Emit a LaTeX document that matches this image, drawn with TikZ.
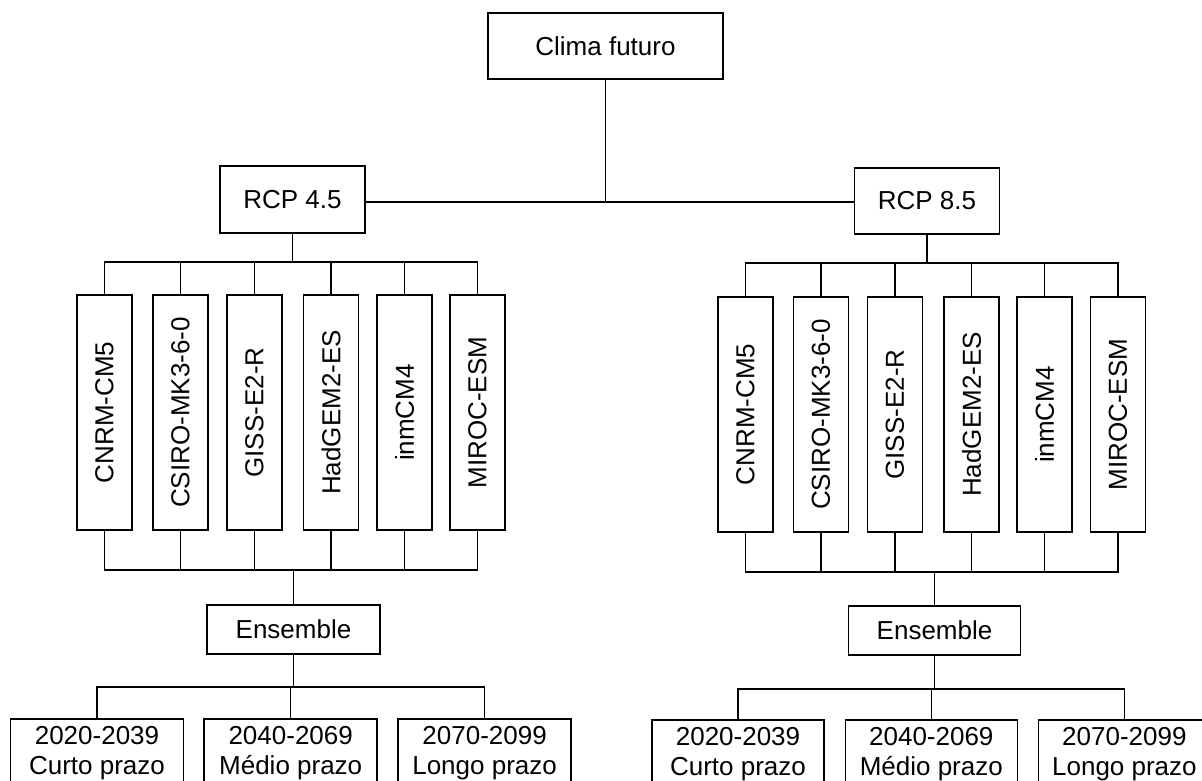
\documentclass[tikz,border=0pt]{standalone}
\usepackage{fontspec}
\setmainfont{Liberation Sans}
\usepackage{graphicx}

\begin{document}
\begin{tikzpicture}[x=1pt,y=1pt,
    box/.style={draw,line width=1.5pt,inner sep=0pt,align=center,
                font=\fontsize{26pt}{30pt}\selectfont},
    gcm/.style={box,minimum width=55pt,minimum height=235pt},
    period/.style={box,anchor=north,minimum width=173pt,inner ysep=8pt},
    link/.style={line width=1.5pt}]
  \useasboundingbox (0,0) rectangle (1202,-780);
  \clip (0,0) rectangle (1202,-780);
  % top level
  \node[box,minimum width=235pt,minimum height=66pt] (clima) at (605.5,-46) {Clima futuro};
  \node[box,minimum width=145pt,minimum height=67pt] (r45) at (292.5,-199.5) {RCP 4.5};
  \node[box,minimum width=145pt,minimum height=66pt] (r85) at (927,-201) {RCP 8.5};
  \coordinate (hub) at (605.5,-202);
  \draw[link] (clima.south) -- (hub);
  \draw[link] (r45.east |- hub) -- (r85.west |- hub);
  % RCP 4.5 models
  \node[gcm] (lm1) at (104.5,-412.5) {\rotatebox{90}{CNRM-CM5}};
  \node[gcm] (lm2) at (180.5,-412.5) {\rotatebox{90}{CSIRO-MK3-6-0}};
  \node[gcm] (lm3) at (254.5,-412.5) {\rotatebox{90}{GISS-E2-R}};
  \node[gcm] (lm4) at (331,-412.5) {\rotatebox{90}{HadGEM2-ES}};
  \node[gcm] (lm5) at (404.5,-412.5) {\rotatebox{90}{inmCM4}};
  \node[gcm] (lm6) at (477.5,-412.5) {\rotatebox{90}{MIROC-ESM}};
  \coordinate (lb1) at (292.5,-262);
  \draw[link] (r45.south) -- (lb1);
  \draw[link] (lm1.north) |- (lb1) -| (lm6.north);
  \draw[link] (lm2.north) -- (lm2.north |- lb1);
  \draw[link] (lm3.north) -- (lm3.north |- lb1);
  \draw[link] (lm4.north) -- (lm4.north |- lb1);
  \draw[link] (lm5.north) -- (lm5.north |- lb1);
  % RCP 4.5 ensemble
  \node[box,minimum width=173pt,minimum height=49pt] (lens) at (293.5,-629.5) {Ensemble};
  \coordinate (lb2) at (293.5,-570);
  \draw[link] (lm1.south) |- (lb2) -| (lm6.south);
  \draw[link] (lm2.south) -- (lm2.south |- lb2);
  \draw[link] (lm3.south) -- (lm3.south |- lb2);
  \draw[link] (lm4.south) -- (lm4.south |- lb2);
  \draw[link] (lm5.south) -- (lm5.south |- lb2);
  \draw[link] (lb2) -- (lens.north);
  % RCP 4.5 periods
  \node[period] (lp1) at (97,-718) {2020-2039\\Curto prazo};
  \node[period] (lp2) at (290.7,-718) {2040-2069\\Médio prazo};
  \node[period] (lp3) at (484.6,-718) {2070-2099\\Longo prazo};
  \coordinate (lb3) at (293.5,-687);
  \draw[link] (lens.south) -- (lb3);
  \draw[link] (lp1.north) |- (lb3) -| (lp3.north);
  \draw[link] (lp2.north) -- (lp2.north |- lb3);
  % RCP 8.5 models
  \node[gcm] (rm1) at (745.5,-414.5) {\rotatebox{90}{CNRM-CM5}};
  \node[gcm] (rm2) at (821,-414.5) {\rotatebox{90}{CSIRO-MK3-6-0}};
  \node[gcm] (rm3) at (895,-414.5) {\rotatebox{90}{GISS-E2-R}};
  \node[gcm] (rm4) at (971.5,-414.5) {\rotatebox{90}{HadGEM2-ES}};
  \node[gcm] (rm5) at (1044.5,-414.5) {\rotatebox{90}{inmCM4}};
  \node[gcm] (rm6) at (1118,-414.5) {\rotatebox{90}{MIROC-ESM}};
  \coordinate (rb1) at (927,-263);
  \draw[link] (r85.south) -- (rb1);
  \draw[link] (rm1.north) |- (rb1) -| (rm6.north);
  \draw[link] (rm2.north) -- (rm2.north |- rb1);
  \draw[link] (rm3.north) -- (rm3.north |- rb1);
  \draw[link] (rm4.north) -- (rm4.north |- rb1);
  \draw[link] (rm5.north) -- (rm5.north |- rb1);
  % RCP 8.5 ensemble
  \node[box,minimum width=172pt,minimum height=49pt] (rens) at (934.5,-630.5) {Ensemble};
  \coordinate (rb2) at (934.5,-572);
  \draw[link] (rm1.south) |- (rb2) -| (rm6.south);
  \draw[link] (rm2.south) -- (rm2.south |- rb2);
  \draw[link] (rm3.south) -- (rm3.south |- rb2);
  \draw[link] (rm4.south) -- (rm4.south |- rb2);
  \draw[link] (rm5.south) -- (rm5.south |- rb2);
  \draw[link] (rb2) -- (rens.north);
  % RCP 8.5 periods
  \node[period,minimum width=172pt] (rp1) at (738,-719) {2020-2039\\Curto prazo};
  \node[period,minimum width=172pt] (rp2) at (931.3,-719) {2040-2069\\Médio prazo};
  \node[period,minimum width=172pt] (rp3) at (1124.4,-719) {2070-2099\\Longo prazo};
  \coordinate (rb3) at (934.5,-689);
  \draw[link] (rens.south) -- (rb3);
  \draw[link] (rp1.north) |- (rb3) -| (rp3.north);
  \draw[link] (rp2.north) -- (rp2.north |- rb3);
\end{tikzpicture}
\end{document}
